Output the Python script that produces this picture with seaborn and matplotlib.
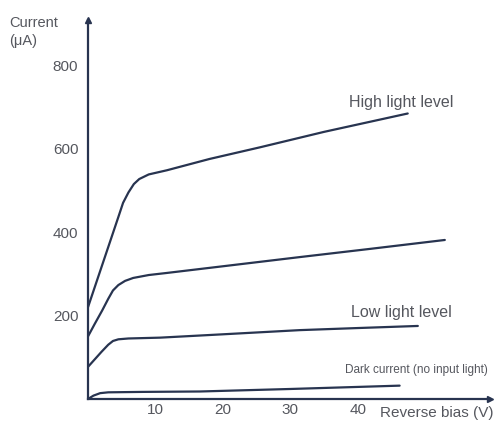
import numpy as np
import pandas as pd
import matplotlib
matplotlib.use("Agg")
import matplotlib.pyplot as plt
import seaborn as sns

# values (reverse bias in V, current in uA)
high_v = [0, 1.5, 3, 4.5, 5.2, 6.0, 6.8, 7.6, 9.0, 11.7, 18, 25.5, 35, 47.4]
high_i = [220, 292, 364, 436, 470, 495, 515, 527, 538, 548, 575, 603, 640, 684]

mid_v = [0, 1, 2.1, 3, 3.7, 4.5, 5.5, 6.7, 9, 11.7, 20, 31.4, 42, 52.9]
mid_i = [150, 180, 212, 240, 260, 273, 283, 290, 297, 302, 318, 340, 360, 381]

low_v = [0, 1, 2, 3, 3.7, 4.5, 6, 10.7, 20, 31.4, 40, 48.9]
low_i = [77, 95, 113, 130, 139, 143, 145, 147, 155, 165, 170, 175]

dark_v = [0, 0.8, 1.8, 3, 8, 16.6, 30, 46.2]
dark_i = [0, 8, 14, 16, 17, 18, 24, 32]

y_ticks = [200, 400, 600, 800]
x_ticks = [10, 20, 30, 40]

INK = "#283450"
TXT = "#55575e"

sns.set_style("white")
plt.rcParams["font.family"] = ["Liberation Sans", "DejaVu Sans"]

fig = plt.figure(figsize=(4.99, 4.26), dpi=100)
ax = fig.add_axes([88 / 499, 27 / 426, 402 / 499, 379 / 426])

curves = [(high_v, high_i), (mid_v, mid_i), (low_v, low_i), (dark_v, dark_i)]
for v, i in curves:
    df = pd.DataFrame({"v": v, "i": i})
    sns.lineplot(data=df, x="v", y="i", sort=False, color=INK, linewidth=1.6, ax=ax)

ax.set_xlim(0, 59.6)
ax.set_ylim(0, 908)
ax.set_xlabel("")
ax.set_ylabel("")

for side in ["top", "right"]:
    ax.spines[side].set_visible(False)
for side in ["left", "bottom"]:
    ax.spines[side].set_color(INK)
    ax.spines[side].set_linewidth(1.6)

# axis arrowheads
ax.plot(1, 0, ">", color=INK, markersize=5, transform=ax.get_yaxis_transform(), clip_on=False)
ax.plot(0, 1, "^", color=INK, markersize=5, transform=ax.get_xaxis_transform(), clip_on=False)

ax.set_xticks(x_ticks)
ax.set_xticklabels([str(t) for t in x_ticks])
ax.set_yticks(y_ticks)
ax.set_yticklabels([str(t) for t in y_ticks])
ax.tick_params(axis="both", direction="in", length=5, width=1.2, color=INK,
               labelcolor=TXT, labelsize=11)
ax.tick_params(axis="x", pad=3)
ax.tick_params(axis="y", pad=7)

# curve labels
ax.text(46.4, 710, "High light level", color=TXT, fontsize=11.5, ha="center", va="center")
ax.text(46.4, 208, "Low light level", color=TXT, fontsize=11.5, ha="center", va="center")
ax.text(48.7, 69, "Dark current (no input light)", color=TXT, fontsize=8.5, ha="center", va="center")
ax.text(43.3, -34, "Reverse bias (V)", color=TXT, fontsize=11, ha="left", va="center", clip_on=False)

fig.text(9 / 499, 1 - 23 / 426, "Current", color=TXT, fontsize=10.5, ha="left", va="center")
fig.text(9 / 499, 1 - 41 / 426, "(\u03bcA)", color=TXT, fontsize=10.5, ha="left", va="center")

fig.savefig("out.png", dpi=100)
